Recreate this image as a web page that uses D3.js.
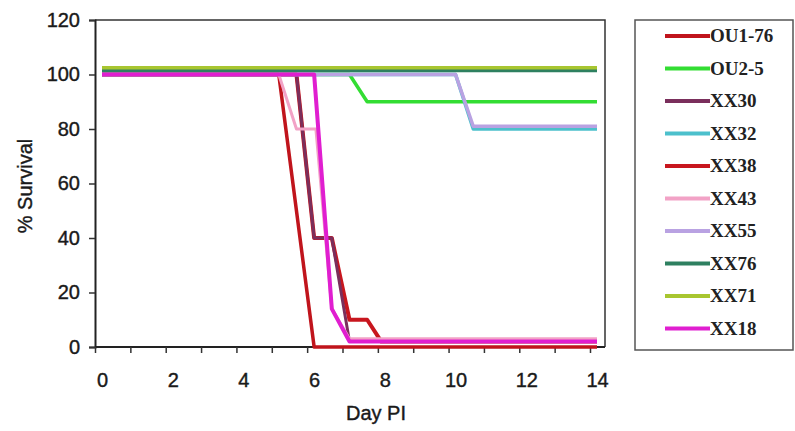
<!DOCTYPE html>
<html>
<head>
<meta charset="utf-8">
<script src="https://cdn.jsdelivr.net/npm/d3@7"></script>
<style>
  body { margin: 0; background: #fff; }
  svg { display: block; }
</style>
</head>
<body>
<svg id="chart" width="795" height="431"></svg>
<script>
// survival curves, [day, % survival]
var ou1_76 = [[0, 100], [5, 100], [6, 0], [14, 0]];
var ou2_5 = [[0, 100], [7, 100], [7.5, 90], [14, 90]];
var xx30 = [[0, 100], [5.5, 100], [6, 40], [6.5, 40], [7, 2], [14, 2]];
var xx32 = [[0, 100], [10, 100], [10.5, 80], [14, 80]];
var xx38 = [[0, 100], [5.5, 100], [6, 40], [6.5, 40], [7, 10], [7.5, 10], [7.9, 2], [14, 2]];
var xx43 = [[0, 100], [5, 100], [5.5, 80], [6.05, 80], [6.5, 14], [7, 3], [14, 3]];
var xx55 = [[0, 100], [10, 100], [10.5, 81], [14, 81]];
var xx76 = [[0, 101.5], [14, 101.5]];
var xx71 = [[0, 102.5], [14, 102.5]];
var xx18 = [[0, 100], [6, 100], [6.5, 14], [7, 2], [14, 2]];

var names = ["OU1-76", "OU2-5", "XX30", "XX32", "XX38", "XX43", "XX55", "XX76", "XX71", "XX18"];
var seriesData = [ou1_76, ou2_5, xx30, xx32, xx38, xx43, xx55, xx76, xx71, xx18];
var colors = ["#c0141c", "#33dd33", "#7a2f5c", "#4cc0cc", "#c8161e", "#f2a2c6", "#b9a2e2", "#2e8060", "#a8c630", "#e01ed0"];
var widths = [3.5, 3.5, 3, 3.5, 4, 3, 3.5, 3.5, 3.5, 4];
// XX38 sits under XX30 in the source picture
var drawOrder = [0, 1, 4, 2, 3, 5, 6, 7, 8, 9];

var xTicks = [0, 2, 4, 6, 8, 10, 12, 14];
var yTicks = [0, 20, 40, 60, 80, 100, 120];

var svg = d3.select("#chart");

var frame = { left: 95, right: 605, top: 20, bottom: 347 };

var x = d3.scaleLinear().domain([0, 14]).range([102, 597]);
var y = d3.scaleLinear().domain([0, 120]).range([frame.bottom, frame.top]);

var sansFont = "Liberation Sans, Arial, sans-serif";

// plot frame (top and right borders)
svg.append("path")
    .attr("d", "M" + frame.left + "," + frame.top + "H" + frame.right + "V" + frame.bottom)
    .attr("fill", "none")
    .attr("stroke", "#333")
    .attr("stroke-width", 1.5);

// y axis
var yAxis = svg.append("g")
    .attr("transform", "translate(" + frame.left + ",0)")
    .call(d3.axisLeft(y).tickValues(yTicks).tickSize(6).tickPadding(9));
yAxis.select(".domain").attr("stroke", "#222").attr("stroke-width", 2);
yAxis.selectAll(".tick line").attr("stroke", "#333").attr("stroke-width", 1.5);

// x axis: labels on the days, tick marks a bit to the left of them (as drawn in the source)
var xAxis = svg.append("g")
    .attr("transform", "translate(0," + frame.bottom + ")")
    .call(d3.axisBottom(x).tickValues(d3.range(0, 15)).tickSize(6).tickPadding(20).tickFormat(function(d) {
        return xTicks.indexOf(d) >= 0 ? d : "";
    }));
xAxis.select(".domain").attr("d", "M" + frame.left + ",0H" + frame.right)
    .attr("stroke", "#222").attr("stroke-width", 2);
xAxis.selectAll(".tick line")
    .attr("transform", "translate(-7,0)")
    .attr("stroke", "#333").attr("stroke-width", 1.5);

svg.selectAll(".tick text")
    .attr("font-family", sansFont)
    .attr("font-size", 20)
    .attr("fill", "#1a1a1a")
    .attr("stroke", "#1a1a1a")
    .attr("stroke-width", 0.4);

// axis titles
svg.append("text")
    .attr("x", 376)
    .attr("y", 420)
    .attr("text-anchor", "middle")
    .attr("font-family", sansFont)
    .attr("font-size", 20)
    .attr("fill", "#1a1a1a")
    .attr("stroke", "#1a1a1a")
    .attr("stroke-width", 0.4)
    .text("Day PI");

svg.append("text")
    .attr("transform", "translate(32,186) rotate(-90)")
    .attr("text-anchor", "middle")
    .attr("font-family", sansFont)
    .attr("font-size", 20)
    .attr("fill", "#1a1a1a")
    .attr("stroke", "#1a1a1a")
    .attr("stroke-width", 0.4)
    .text("% Survival");

// lines
var line = d3.line()
    .x(function(d) { return x(d[0]); })
    .y(function(d) { return y(d[1]); });

svg.append("g").selectAll("path")
    .data(drawOrder)
    .join("path")
    .attr("d", function(i) { return line(seriesData[i]); })
    .attr("fill", "none")
    .attr("stroke", function(i) { return colors[i]; })
    .attr("stroke-width", function(i) { return widths[i]; })
    .attr("stroke-linejoin", "round");

// legend
var legend = svg.append("g");
legend.append("rect")
    .attr("x", 635)
    .attr("y", 20)
    .attr("width", 158)
    .attr("height", 330)
    .attr("fill", "#fff")
    .attr("stroke", "#555")
    .attr("stroke-width", 1.5);

var legendY = d3.scalePoint().domain(names).range([36, 328.5]);

var items = legend.selectAll("g.item")
    .data(names)
    .join("g")
    .attr("class", "item")
    .attr("transform", function(d) { return "translate(0," + legendY(d) + ")"; });

items.append("line")
    .attr("x1", 665)
    .attr("x2", 710)
    .attr("stroke", function(d, i) { return colors[i]; })
    .attr("stroke-width", 4);

items.append("text")
    .attr("x", 710)
    .attr("y", 6)
    .attr("font-family", "Liberation Serif, Times New Roman, serif")
    .attr("font-weight", "bold")
    .attr("font-size", 19)
    .attr("fill", "#222")
    .text(function(d) { return d; });
</script>
</body>
</html>
